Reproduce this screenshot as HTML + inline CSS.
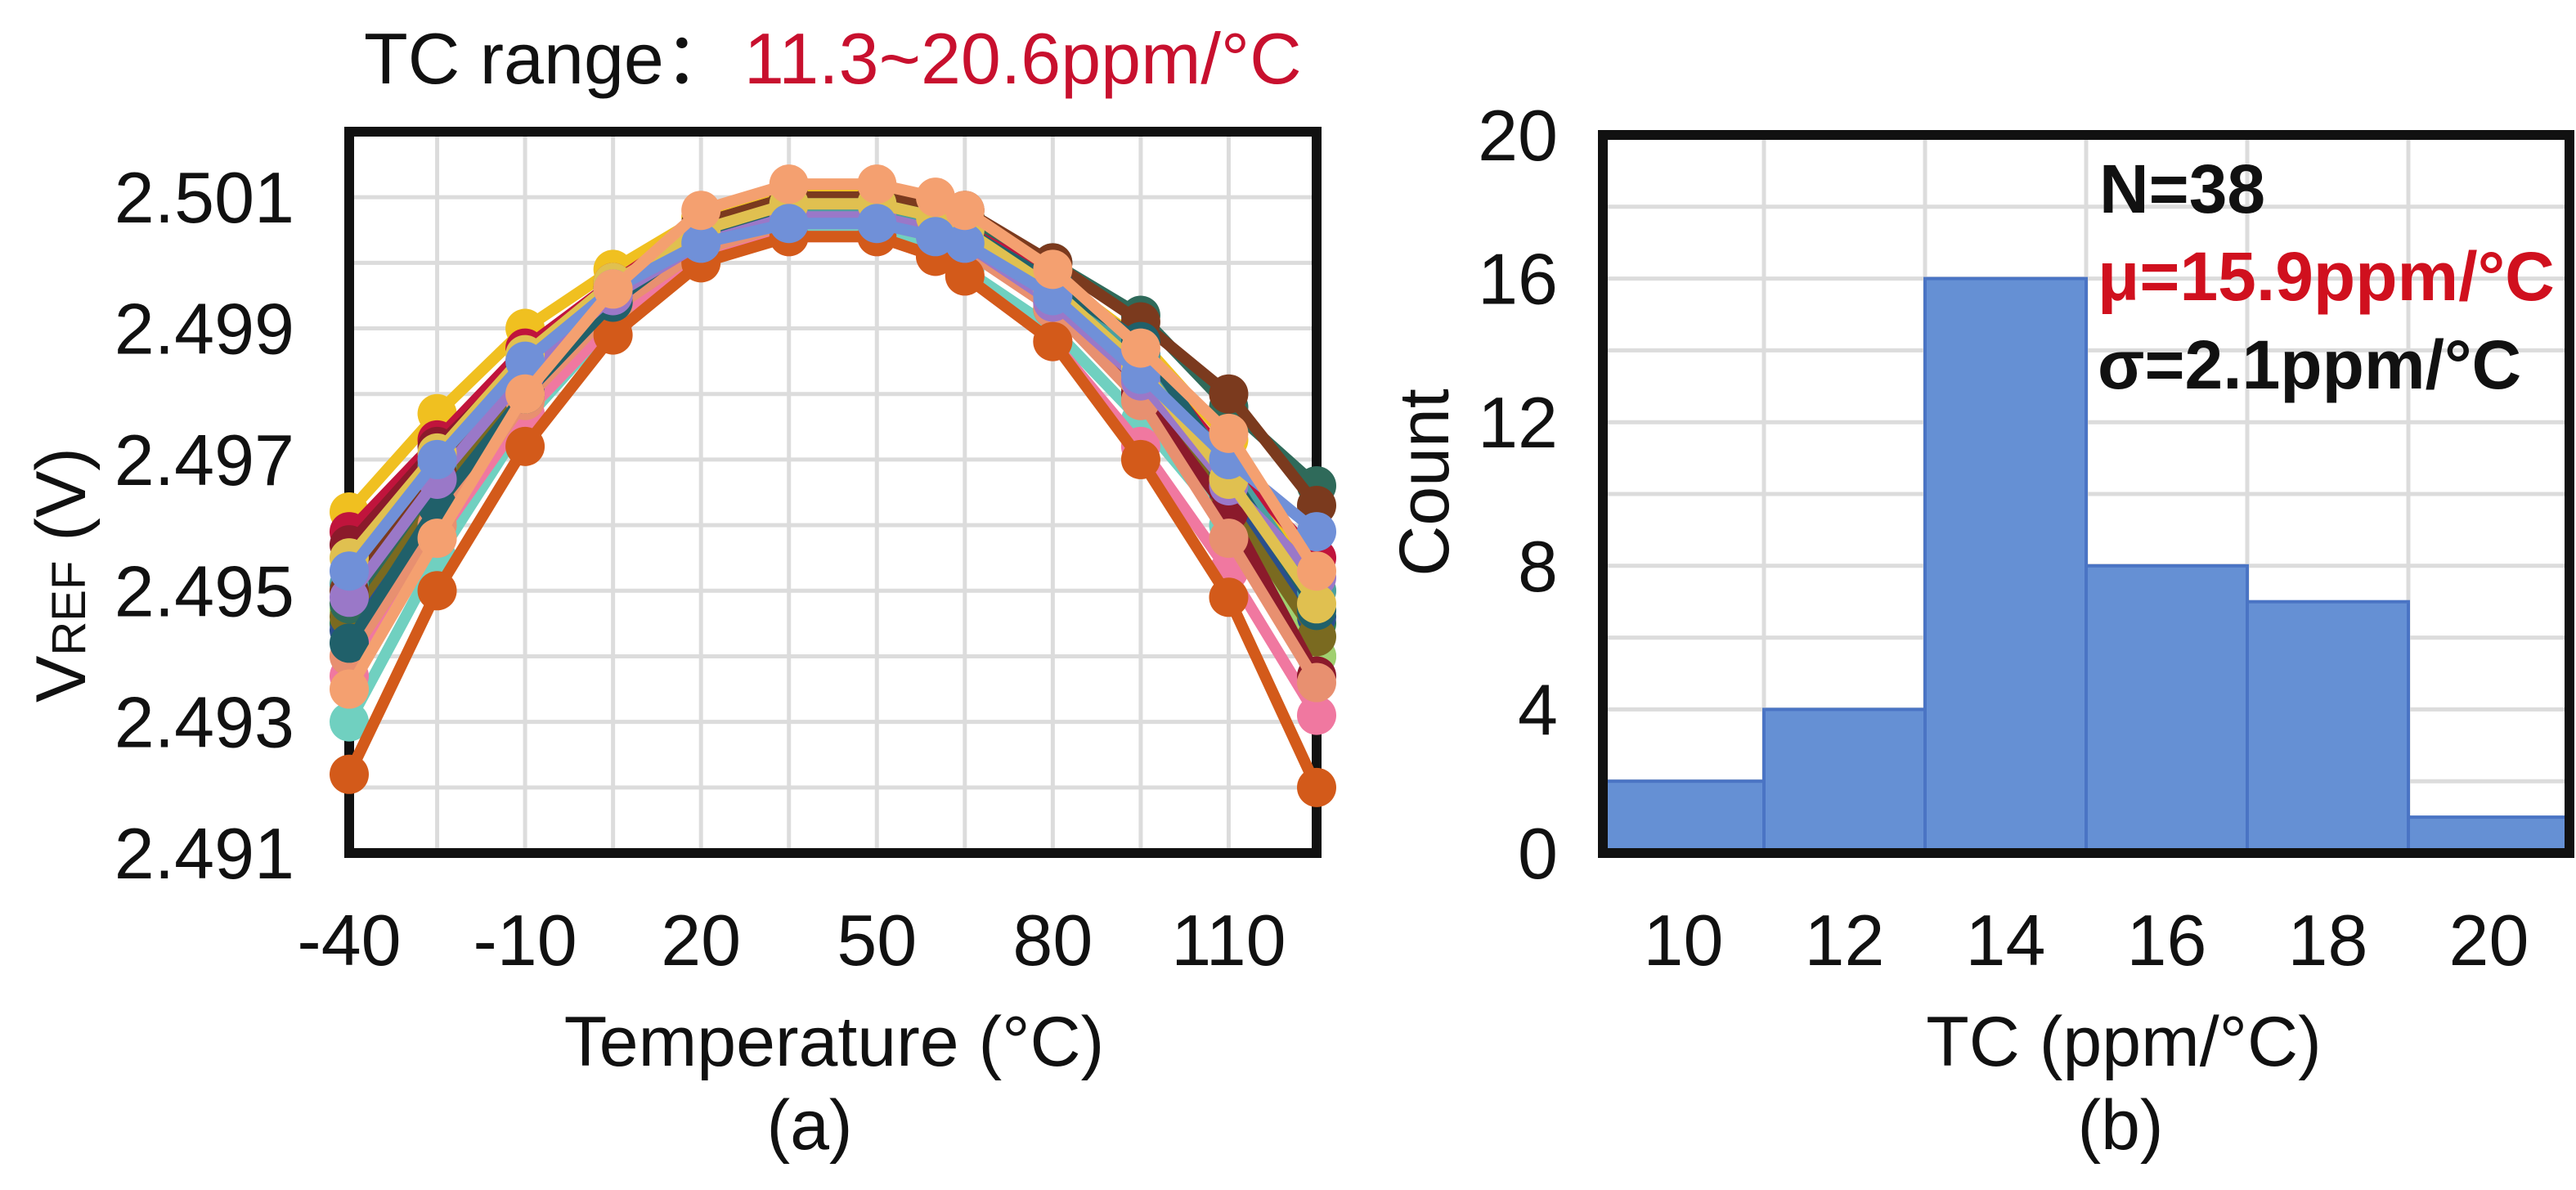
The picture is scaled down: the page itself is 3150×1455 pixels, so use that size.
<!DOCTYPE html>
<html><head><meta charset="utf-8"><style>
html,body{margin:0;padding:0;background:#fff}
svg text{font-family:"Liberation Sans",Arial,sans-serif}
</style></head><body>
<svg id="fig" width="3150" height="1450" viewBox="0 0 3150 1450" xmlns="http://www.w3.org/2000/svg">
<rect width="3150" height="1450" fill="#fff"/>
<g id="left"></g>
<g id="right"></g>
</svg>
<script>
// ---- Chart (a) data ----
const temps = [-40,-25,-10,5,20,35,50,60,65,80,95,110,125];
const xTicks = [-40,-10,20,50,80,110];
const yTicks = [2.491,2.493,2.495,2.497,2.499,2.501];
const seriesColors = ["#f0c020","#c0143c","#2e7d4f","#70d0c0","#f078a0","#a0d070","#2a4f8c","#7a6a20","#2f6a5a","#8b1a2b","#e89070","#4aa0a0","#d35a1a","#7b3a1e","#20606a","#9a78c8","#e0c050","#7090d8","#f4a070"];
const s1  = [2.4962,2.4977,2.4990,2.4999,2.5007,2.5011,2.5011,2.5009,2.5007,2.4998,2.4988,2.4973,2.4950];
const s2  = [2.4959,2.4973,2.4987,2.4997,2.5006,2.5010,2.5010,2.5008,2.5006,2.4997,2.4986,2.4970,2.4955];
const s3  = [2.4945,2.4965,2.4981,2.4995,2.5004,2.5008,2.5008,2.5006,2.5004,2.4996,2.4985,2.4966,2.4945];
const s4  = [2.4930,2.4955,2.4976,2.4991,2.5001,2.5005,2.5005,2.5002,2.4999,2.4990,2.4976,2.4960,2.4940];
const s5  = [2.4937,2.4958,2.4977,2.4991,2.5001,2.5004,2.5004,2.5001,2.4998,2.4988,2.4972,2.4953,2.4931];
const s6  = [2.4947,2.4966,2.4982,2.4994,2.5003,2.5007,2.5007,2.5005,2.5003,2.4993,2.4980,2.4962,2.4940];
const s7  = [2.4944,2.4964,2.4981,2.4994,2.5003,2.5007,2.5007,2.5005,2.5003,2.4995,2.4983,2.4965,2.4946];
const s8  = [2.4946,2.4965,2.4982,2.4995,2.5004,2.5008,2.5008,2.5006,2.5004,2.4993,2.4981,2.4963,2.4943];
const s9  = [2.4948,2.4967,2.4983,2.4996,2.5006,2.5010,2.5010,2.5009,2.5007,2.5000,2.4992,2.4978,2.4966];
const s10 = [2.4957,2.4972,2.4985,2.4996,2.5005,2.5009,2.5009,2.5006,2.5004,2.4994,2.4980,2.4962,2.4937];
const s11 = [2.4940,2.4960,2.4979,2.4993,2.5002,2.5006,2.5006,2.5004,2.5002,2.4993,2.4979,2.4958,2.4936];
const s12 = [2.4951,2.4969,2.4984,2.4995,2.5004,2.5008,2.5008,2.5006,2.5005,2.4997,2.4986,2.4969,2.4950];
const s13 = [2.4922,2.4950,2.4972,2.4989,2.5000,2.5004,2.5004,2.5001,2.4998,2.4988,2.4970,2.4949,2.4920];
const s14 = [2.4950,2.4968,2.4984,2.4996,2.5006,2.5010,2.5010,2.5009,2.5008,2.5000,2.4991,2.4980,2.4963];
const s15 = [2.4942,2.4963,2.4980,2.4994,2.5004,2.5009,2.5009,2.5007,2.5005,2.4997,2.4988,2.4968,2.4947];
const s16 = [2.4949,2.4967,2.4983,2.4995,2.5003,2.5007,2.5007,2.5005,2.5003,2.4994,2.4982,2.4966,2.4952];
const s17 = [2.4955,2.4971,2.4986,2.4997,2.5005,2.5009,2.5009,2.5007,2.5005,2.4996,2.4984,2.4967,2.4948];
const s18 = [2.4953,2.4970,2.4985,2.4996,2.5003,2.5006,2.5006,2.5004,2.5003,2.4995,2.4983,2.4970,2.4959];
const s19 = [2.4935,2.4958,2.4980,2.4996,2.5008,2.5012,2.5012,2.5010,2.5008,2.4999,2.4987,2.4974,2.4953];
const allSeries = [s1,s2,s3,s4,s5,s6,s7,s8,s9,s10,s11,s12,s13,s14,s15,s16,s17,s18,s19];

// ---- Chart (b) data ----
const binEdges = [9,11,13,15,17,19,21];
const counts = [2,4,16,8,7,1];
const hxTicks = [10,12,14,16,18,20];
const hyTicks = [0,4,8,12,16,20];

const NS="http://www.w3.org/2000/svg";
function mk(parent,tag,attrs,text){const e=document.createElementNS(NS,tag);for(const k in attrs)e.setAttribute(k,attrs[k]);if(text!==undefined)e.textContent=text;parent.appendChild(e);return e;}

// ---- Left chart ----
const L=document.getElementById('left');
const lx0=427,lx1=1610,ly0=1043,ly1=161,vmin=2.491,vmax=2.502;
const xa=t=>lx0+(t-(-40))/(125-(-40))*(lx1-lx0);
const ya=v=>ly0-(v-vmin)/(vmax-vmin)*(ly0-ly1);
for(let t=-25;t<125;t+=15){const g=mk(L,'line',{x1:xa(t),x2:xa(t),y1:ly1,y2:ly0,stroke:'#dcdcdc','stroke-width':5});

}
for(let k=1;k<11;k++){const v=vmin+k*0.001;const g=mk(L,'line',{x1:lx0,x2:lx1,y1:ya(v),y2:ya(v),stroke:'#dcdcdc','stroke-width':5});

}
const box=mk(L,'rect',{x:lx0,y:ly1,width:lx1-lx0,height:ly0-ly1,fill:'none',stroke:'#111','stroke-width':12});


allSeries.forEach((s,i)=>{
  const col=seriesColors[i];
  const g=mk(L,'g',{});
  
  
  const pl=mk(g,'polyline',{points:s.map((v,j)=>xa(temps[j])+','+ya(v)).join(' '),fill:'none',stroke:col,'stroke-width':14,'stroke-linejoin':'round'});
  
  
  s.forEach((v,j)=>{const c=mk(g,'circle',{cx:xa(temps[j]),cy:ya(v),r:24,fill:col});
  
  });
});
yTicks.forEach(v=>{const t=mk(L,'text',{x:360,y:ya(v)+31,'text-anchor':'end','font-size':88,fill:'#111'},v.toFixed(3));

});
xTicks.forEach(v=>{const t=mk(L,'text',{x:xa(v),y:1180,'text-anchor':'middle','font-size':88,fill:'#111'},String(v));

});
let t;
t=mk(L,'text',{x:1020,y:1303,'text-anchor':'middle','font-size':86,fill:'#111'},'Temperature (°C)');


t=mk(L,'text',{x:990,y:1405,'text-anchor':'middle','font-size':86,fill:'#111'},'(a)');


t=mk(L,'text',{x:0,y:0,'text-anchor':'middle','font-size':86,fill:'#111',transform:'translate(104,703) rotate(-90)'});


mk(t,'tspan',{},'V');mk(t,'tspan',{'font-size':58,dy:0},'REF');mk(t,'tspan',{dy:0},' (V)');
t=mk(L,'text',{x:445,y:102,'font-size':88,fill:'#111'});


mk(t,'tspan',{},'TC range：');mk(t,'tspan',{fill:'#c8102e',dx:10},'11.3~20.6ppm/°C');

// ---- Right chart ----
const R=document.getElementById('right');
const rx0=1960,rx1=3142,ry0=1043,ry1=165;
const xb=v=>rx0+(v-9)/(21-9)*(rx1-rx0);
const yb=v=>ry0-v/20*(ry0-ry1);
for(let v=11;v<21;v+=2){const g=mk(R,'line',{x1:xb(v),x2:xb(v),y1:ry1,y2:ry0,stroke:'#dcdcdc','stroke-width':5});

}
for(let v=2;v<20;v+=2){const g=mk(R,'line',{x1:rx0,x2:rx1,y1:yb(v),y2:yb(v),stroke:'#dcdcdc','stroke-width':5});

}
counts.forEach((c,i)=>{const b=mk(R,'rect',{x:xb(binEdges[i]),y:yb(c),width:xb(binEdges[i+1])-xb(binEdges[i]),height:yb(0)-yb(c),fill:'#6590d4',stroke:'#4a74c4','stroke-width':4});

});
const box2=mk(R,'rect',{x:rx0,y:ry1,width:rx1-rx0,height:ry0-ry1,fill:'none',stroke:'#111','stroke-width':12});


hyTicks.forEach(v=>{const t=mk(R,'text',{x:1905,y:yb(v)+31,'text-anchor':'end','font-size':88,fill:'#111'},String(v));

});
hxTicks.forEach(v=>{const t=mk(R,'text',{x:xb(v),y:1180,'text-anchor':'middle','font-size':88,fill:'#111'},String(v));

});
t=mk(R,'text',{x:2597,y:1303,'text-anchor':'middle','font-size':86,fill:'#111'},'TC (ppm/°C)');


t=mk(R,'text',{x:2593,y:1405,'text-anchor':'middle','font-size':86,fill:'#111'},'(b)');


t=mk(R,'text',{x:0,y:0,'text-anchor':'middle','font-size':86,fill:'#111',transform:'translate(1771,590) rotate(-90)'},'Count');


t=mk(R,'text',{x:2567,y:260,'font-size':84,'font-weight':'bold',fill:'#111'},'N=38');


t=mk(R,'text',{x:2565,y:367,'font-size':84,'font-weight':'bold',fill:'#d0101e'},'μ=15.9ppm/°C');


t=mk(R,'text',{x:2565,y:475,'font-size':84,'font-weight':'bold',fill:'#111'},'σ=2.1ppm/°C');


</script>
</body></html>
